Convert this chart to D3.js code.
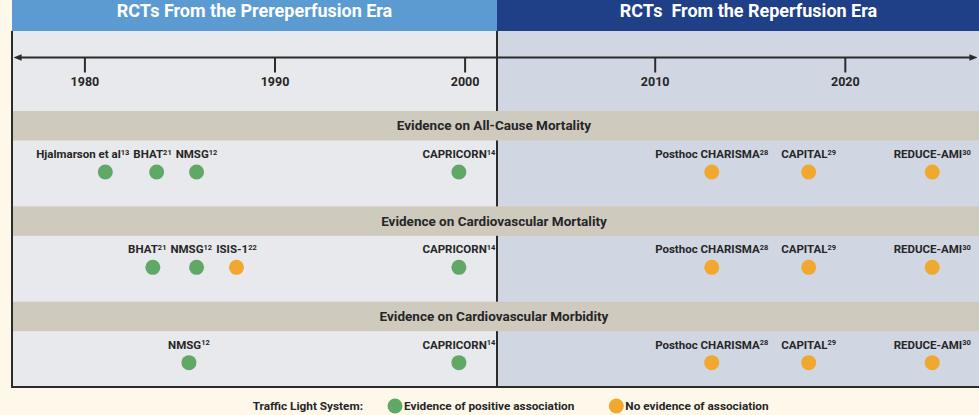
<!DOCTYPE html>
<html>
<head>
<meta charset="utf-8">
<script src="https://cdn.jsdelivr.net/npm/d3@7"></script>
<style>
  body { margin: 0; background: #fdf8ea; }
  svg { display: block; }
  text { font-family: Roboto, "Open Sans", sans-serif; font-weight: 700; fill: #262626; }
</style>
</head>
<body>
<div id="chart"></div>
<script>
// 数据
const yearTicks = [1980, 1990, 2000, 2010, 2020];
const eraTitles = ["RCTs From the Prereperfusion Era", "RCTs\u00a0 From the Reperfusion Era"];
const outcomeTitles = [
    "Evidence on All-Cause Mortality",
    "Evidence on Cardiovascular Mortality",
    "Evidence on Cardiovascular Morbidity"
];

const allCauseNames = ["Hjalmarson et al", "BHAT", "NMSG", "CAPRICORN", "Posthoc CHARISMA", "CAPITAL", "REDUCE-AMI"];
const allCauseRefs = ["13", "21", "12", "14", "28", "29", "30"];
const allCauseYears = [1981.1, 1983.8, 1985.9, 1999.7, 2013.0, 2018.1, 2024.6];
const allCauseResults = ["positive", "positive", "positive", "positive", "none", "none", "none"];

const cvMortalityNames = ["BHAT", "NMSG", "ISIS-1", "CAPRICORN", "Posthoc CHARISMA", "CAPITAL", "REDUCE-AMI"];
const cvMortalityRefs = ["21", "12", "22", "14", "28", "29", "30"];
const cvMortalityYears = [1983.6, 1985.9, 1988.0, 1999.7, 2013.0, 2018.1, 2024.6];
const cvMortalityResults = ["positive", "positive", "none", "positive", "none", "none", "none"];

const cvMorbidityNames = ["NMSG", "CAPRICORN", "Posthoc CHARISMA", "CAPITAL", "REDUCE-AMI"];
const cvMorbidityRefs = ["12", "14", "28", "29", "30"];
const cvMorbidityYears = [1985.5, 1999.7, 2013.0, 2018.1, 2024.6];
const cvMorbidityResults = ["positive", "positive", "none", "none", "none"];

const resultKeys = ["positive", "none"];
const resultLabels = ["Evidence of positive association", "No evidence of association"];
const legendTitle = "Traffic Light System:";

// 布局
const width = 979, height = 415;
const boxLeft = 12, boxRight = 1000, headerH = 31, boxBottom = 387;
const splitX = 497;
const axisY = 57.5;
const bandH = 29.5;

const colors = { positive: "#5fa866", none: "#f0a92e" };

const rows = outcomeTitles.map((title, i) => {
    const names = [allCauseNames, cvMortalityNames, cvMorbidityNames][i];
    const refs = [allCauseRefs, cvMortalityRefs, cvMorbidityRefs][i];
    const years = [allCauseYears, cvMortalityYears, cvMorbidityYears][i];
    const results = [allCauseResults, cvMortalityResults, cvMorbidityResults][i];
    return { title, trials: names.map((n, j) => ({ name: n, ref: refs[j], year: years[j], result: results[j] })) };
});

const x = d3.scaleLinear().domain([1980, 2020]).range([84.4, 844.8]);
const y = d3.scaleBand().domain(outcomeTitles).range([111, 397]);

const svg = d3.select("#chart").append("svg")
    .attr("width", width)
    .attr("height", height);

// 背景面板
svg.append("rect").attr("x", boxLeft).attr("y", headerH)
    .attr("width", splitX - boxLeft).attr("height", boxBottom - headerH).attr("fill", "#e8e9ec");
svg.append("rect").attr("x", splitX).attr("y", headerH)
    .attr("width", boxRight - splitX).attr("height", boxBottom - headerH).attr("fill", "#d0d7e3");

// 标题栏
const headers = [
    { x0: boxLeft, x1: splitX, fill: "#5b9bd1" },
    { x0: splitX, x1: boxRight, fill: "#1f4087" }
];
svg.selectAll("rect.header").data(headers).join("rect")
    .attr("class", "header")
    .attr("x", d => d.x0).attr("y", 0)
    .attr("width", d => d.x1 - d.x0).attr("height", headerH)
    .attr("fill", d => d.fill);
svg.selectAll("text.header").data(headers).join("text")
    .attr("class", "header")
    .attr("x", d => (d.x0 + d.x1) / 2).attr("y", 16.5)
    .attr("text-anchor", "middle")
    .style("fill", "#fff").style("font-size", "18px").style("font-weight", 700)
    .text((d, i) => eraTitles[i]);

// 分隔线
svg.append("line").attr("x1", splitX).attr("x2", splitX)
    .attr("y1", headerH).attr("y2", boxBottom)
    .attr("stroke", "#2b2b2b").attr("stroke-width", 2);

// 时间轴
const defs = svg.append("defs");
defs.append("marker").attr("id", "arrow")
    .attr("viewBox", "0 0 10 10").attr("refX", 2).attr("refY", 5)
    .attr("markerWidth", 4).attr("markerHeight", 4)
    .attr("orient", "auto-start-reverse")
    .append("path").attr("d", "M0,1 L10,5 L0,9 z").attr("fill", "#2b2b2b");

svg.append("line").attr("x1", 20).attr("x2", 971)
    .attr("y1", axisY).attr("y2", axisY)
    .attr("stroke", "#2b2b2b").attr("stroke-width", 2)
    .attr("marker-start", "url(#arrow)").attr("marker-end", "url(#arrow)");

const axis = svg.append("g")
    .attr("transform", `translate(0,${axisY})`)
    .call(d3.axisBottom(x).tickValues(yearTicks).tickFormat(d3.format("d")).tickSize(15).tickPadding(5));
axis.select(".domain").remove();
axis.selectAll(".tick line").attr("stroke", "#2b2b2b").attr("stroke-width", 2);
axis.selectAll(".tick text").attr("fill", "#262626")
    .style("font-size", "12.5px").style("font-family", "Roboto, sans-serif").style("font-weight", 700);

// 结果行
const row = svg.selectAll("g.row").data(rows).join("g")
    .attr("class", "row")
    .attr("transform", d => `translate(0,${y(d.title)})`);

row.append("rect").attr("x", boxLeft).attr("y", 0)
    .attr("width", boxRight - boxLeft).attr("height", bandH)
    .attr("fill", "#cfcabe");
row.append("text").attr("x", splitX - 3).attr("y", bandH / 2).attr("dy", "0.35em")
    .attr("text-anchor", "middle").style("font-size", "13.5px")
    .text(d => d.title);

row.each(function(d) {
    const g = d3.select(this);
    const labels = g.selectAll("text.trial").data(d.trials).join("text")
        .attr("class", "trial")
        .attr("y", 43).attr("dy", "0.35em")
        .style("font-size", "11.5px");
    labels.append("tspan").text(t => t.name);
    labels.append("tspan").attr("dy", "-0.45em").style("font-size", "7.5px").text(t => t.ref);

    // 标签居中，从右往左避免重叠
    const boxes = [];
    labels.each(function(t) {
        const w = this.getComputedTextLength();
        boxes.push({ node: this, left: x(t.year) - w / 2, w });
    });
    for (let i = boxes.length - 2; i >= 0; i--) {
        const limit = boxes[i + 1].left - 4;
        if (boxes[i].left + boxes[i].w > limit) boxes[i].left = limit - boxes[i].w;
    }
    boxes.forEach(b => d3.select(b.node).attr("x", b.left));

    g.selectAll("circle").data(d.trials).join("circle")
        .attr("cx", t => x(t.year)).attr("cy", 61)
        .attr("r", 7.5)
        .attr("fill", t => colors[t.result]);
});

// 外框
svg.append("path")
    .attr("d", `M${boxLeft},${headerH} V${boxBottom} H${boxRight}`)
    .attr("fill", "none").attr("stroke", "#2b2b2b").attr("stroke-width", 2);

// 图例
const legendY = 406;
const legend = svg.append("g");
legend.append("text").attr("x", 363).attr("y", legendY).attr("dy", "0.35em")
    .attr("text-anchor", "end").style("font-size", "11.8px")
    .text(legendTitle);
let lx = 395;
resultKeys.forEach((k, i) => {
    legend.append("circle").attr("cx", lx).attr("cy", legendY).attr("r", 7.5).attr("fill", colors[k]);
    const t = legend.append("text").attr("x", lx + 9).attr("y", legendY).attr("dy", "0.35em")
        .style("font-size", "11.8px").text(resultLabels[i]);
    lx += 9 + t.node().getComputedTextLength() + 42;
});
</script>
</body>
</html>
